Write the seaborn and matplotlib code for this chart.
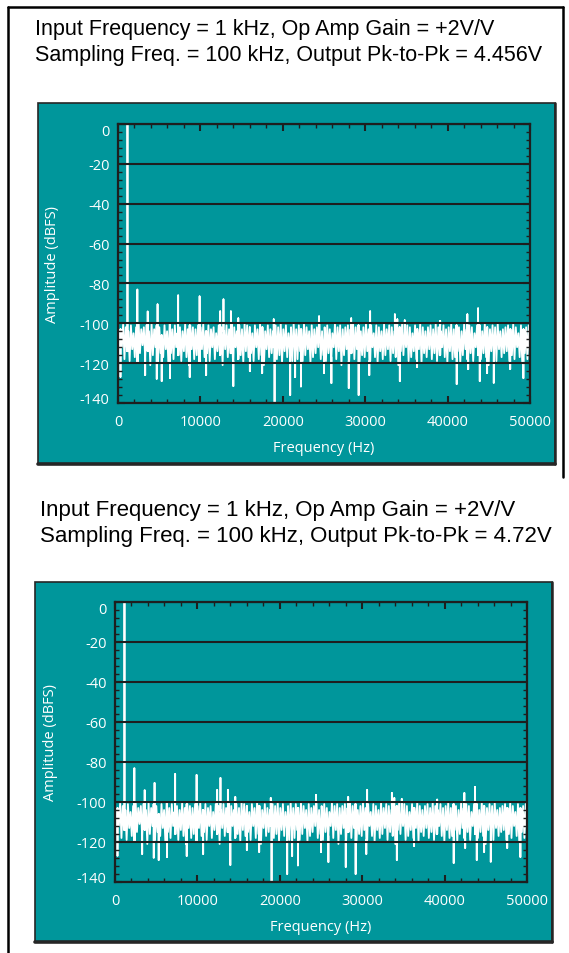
import numpy as np
import pandas as pd
import matplotlib
matplotlib.use("Agg")
import matplotlib.pyplot as plt
import seaborn as sns
from matplotlib.patches import Rectangle
from matplotlib.lines import Line2D
from matplotlib.ticker import MultipleLocator, FixedLocator
from matplotlib.transforms import ScaledTranslation

# ---------------- data ----------------
title_line1 = ["Input Frequency = 1 kHz, Op Amp Gain = +2V/V",
               "Input Frequency = 1 kHz, Op Amp Gain = +2V/V"]
title_line2 = ["Sampling Freq. = 100 kHz, Output Pk-to-Pk = 4.456V",
               "Sampling Freq. = 100 kHz, Output Pk-to-Pk = 4.72V"]

noise_floor_dbfs = [
    -101,-116,-103,-112,-100,-118,-102,-114,-104,-119,-101,-113,-105,-117,-102,-120,-100,-115,-103,-111,
    -102,-118,-101,-114,-104,-121,-100,-116,-103,-112,-101,-119,-102,-115,-106,-117,-101,-113,-104,-120,
    -100,-115,-103,-118,-101,-112,-105,-116,-102,-119,-104,-114,-100,-117,-103,-121,-101,-113,-102,-118,
    -103,-116,-101,-120,-102,-113,-100,-117,-104,-115,-101,-119,-103,-112,-102,-118,-105,-114,-101,-116,
    -102,-121,-104,-113,-101,-117,-103,-115,-100,-119,-102,-112,-104,-118,-101,-116,-103,-120,-100,-114,
    -101,-117,-102,-115,-105,-119,-101,-112,-103,-118,-100,-116,-102,-121,-104,-113,-101,-117,-103,-115,
    -104,-112,-101,-118,-102,-116,-100,-120,-103,-114,-101,-117,-105,-113,-102,-119,-100,-115,-103,-118,
    -101,-114,-103,-119,-100,-116,-102,-113,-104,-120,-101,-117,-103,-115,-102,-112,-100,-118,-104,-116,
    -102,-119,-101,-115,-103,-117,-105,-112,-100,-118,-102,-114,-101,-121,-103,-116,-102,-113,-101,-119,
    -103,-115,-100,-118,-102,-113,-101,-120,-104,-116,-102,-117,-100,-114,-103,-119,-101,-112,-105,-117,
    -101,-120,-102,-114,-104,-118,-100,-116,-103,-113,-101,-119,-102,-115,-104,-117,-100,-121,-102,-114,
    -100,-116,-103,-112,-101,-119,-102,-117,-105,-114,-101,-118,-103,-113,-100,-120,-102,-115,-104,-117,
    -102,-113,-101,-118,-103,-115,-100,-119,-102,-116,-104,-112,-101,-117,-103,-120,-102,-114,-100,-118,
    -103,-117,-101,-114,-102,-120,-104,-116,-100,-113,-103,-118,-101,-115,-102,-119,-105,-112,-101,-116,
    -101,-118,-104,-115,-100,-117,-102,-121,-103,-114,-101,-116,-102,-119,-100,-113,-104,-117,-103,-115,
    -102,-114,-101,-119,-103,-116,-100,-118,-102,-112,-105,-117,-101,-120,-103,-115,-102,-118,-101,-116,
]

tone_freqs_hz = [1150, 2350, 3600, 4800, 7300, 9900, 12400, 12800, 13700, 14600,
                 18900, 24400, 28300, 30600, 33600, 33900, 34800, 39100, 42400, 43700]
tone_levels_dbfs = [0, -83, -94, -90.5, -86, -86.5, -94, -88, -94, -97.5,
                    -98, -96.5, -97.5, -94, -95.5, -98, -98.5, -98.8, -95.5, -92.5]

dip_freqs_hz = [300, 3300, 4700, 5300, 6300, 8700, 10700, 14000, 16000, 17500,
                19000, 20900, 21500, 22200, 25000, 25900, 28000, 29200, 30500, 34200,
                36300, 41100, 42500, 43900, 44800, 45600, 47600, 49200]
dip_levels_dbfs = [-127, -126, -128, -129, -127.5, -127, -126, -131.5, -124, -125,
                   -139.5, -136, -127, -131.7, -125, -130, -132.5, -136, -126, -129,
                   -122, -130.5, -123, -129, -125, -130, -123, -127.5]

x_ticks = [0, 10000, 20000, 30000, 40000, 50000]
y_ticks = [0, -20, -40, -60, -80, -100, -120, -140]

# ---------------- build spectrum table ----------------
# noise floor on the FFT bin grid; tones and dips drawn as vertical strokes
bins = np.linspace(0, 50000, len(noise_floor_dbfs))
rows = [(f, 0, l) for f, l in zip(bins, noise_floor_dbfs)]
for f, l in zip(tone_freqs_hz + dip_freqs_hz, tone_levels_dbfs + dip_levels_dbfs):
    k = int(np.argmin(np.abs(bins - f)))
    base = noise_floor_dbfs[k]
    rows += [(f, 1, base), (f, 2, l), (f, 3, base)]
rows.sort(key=lambda r: (r[0], r[1]))
spectrum = pd.DataFrame({"Frequency (Hz)": [r[0] for r in rows],
                         "Amplitude (dBFS)": [r[2] for r in rows]})

# ---------------- figure ----------------
W, H = 569, 954
sns.set_style("ticks")
plt.rcParams["font.family"] = ["Open Sans", "DejaVu Sans"]
fig = plt.figure(figsize=(W / 100, H / 100), dpi=100)
fig.patch.set_facecolor("white")

def fx(x):
    return x / W

def fy(y):
    return 1 - y / H

TEAL = "#00969b"
EDGE = "#262626"

# outer frame
for (x0, y0, x1, y1) in [(8, 8, 8, 954), (8, 8, 563, 8), (563, 8, 563, 478)]:
    fig.add_artist(Line2D([fx(x0), fx(x1)], [fy(y0), fy(y1)], color="black", lw=1.8,
                          transform=fig.transFigure))

panels = [
    dict(rect=(38, 104, 555, 465), axes=(118, 125, 530, 404), tx=35, tb=(34.5, 61), fs=15.5),
    dict(rect=(35, 583, 552, 943), axes=(115, 603, 527, 883), tx=40, tb=(516, 542), fs=16.0),
]

for i, p in enumerate(panels):
    x0, y0, x1, y1 = p["rect"]
    fig.add_artist(Rectangle((fx(x0), fy(y1)), fx(x1) - fx(x0), fy(y0) - fy(y1),
                             transform=fig.transFigure, facecolor=TEAL, edgecolor=EDGE,
                             lw=1.2, zorder=0))
    fig.add_artist(Line2D([fx(x0), fx(x1)], [fy(y1), fy(y1)], color=EDGE, lw=2.6,
                          transform=fig.transFigure))
    fig.add_artist(Line2D([fx(x1), fx(x1)], [fy(y0), fy(y1)], color=EDGE, lw=1.8,
                          transform=fig.transFigure))

    fig.text(fx(p["tx"]), fy(p["tb"][0]), title_line1[i], fontsize=p["fs"],
             family=["Liberation Sans", "DejaVu Sans"], va="baseline", ha="left", color="black")
    fig.text(fx(p["tx"]), fy(p["tb"][1]), title_line2[i], fontsize=p["fs"],
             family=["Liberation Sans", "DejaVu Sans"], va="baseline", ha="left", color="black")

    ax0, ay0, ax1, ay1 = p["axes"]
    ax = fig.add_axes([fx(ax0), fy(ay1), fx(ax1) - fx(ax0), fy(ay0) - fy(ay1)])
    ax.set_facecolor(TEAL)
    sns.lineplot(data=spectrum, x="Frequency (Hz)", y="Amplitude (dBFS)", ax=ax,
                 color="white", lw=1.3, estimator=None, sort=False, legend=False, zorder=2)
    ax.set_xlim(0, 50000)
    ax.set_ylim(-140, 0)
    ax.xaxis.set_major_locator(FixedLocator(x_ticks))
    ax.yaxis.set_major_locator(FixedLocator(y_ticks))
    ax.set_xticklabels([str(v) for v in x_ticks])
    ax.set_yticklabels([str(v) for v in y_ticks])
    ax.xaxis.set_minor_locator(MultipleLocator(2000))
    ax.yaxis.set_minor_locator(MultipleLocator(4))
    ax.set_axisbelow(False)
    ax.yaxis.grid(True, which="major", color="#1e1e1e", lw=1.5, zorder=3)
    ax.xaxis.grid(False)
    for s in ax.spines.values():
        s.set_color("#1e1e1e")
        s.set_linewidth(1.6)
        s.set_zorder(4)
    ax.tick_params(which="both", direction="in", top=True, right=True,
                   color="#1e1e1e", labelcolor="white", labelsize=10.5)
    ax.tick_params(which="major", length=5, width=1.5)
    ax.tick_params(which="minor", length=3, width=1.0)
    ax.tick_params(axis="y", pad=6)
    ax.tick_params(axis="x", pad=8)
    # end labels sit slightly inside the axis range, as in the original
    yt = ax.yaxis.get_major_ticks()
    yt[0].label1.set_transform(yt[0].label1.get_transform() +
                               ScaledTranslation(0, -6 / 100, fig.dpi_scale_trans))
    yt[-1].label1.set_transform(yt[-1].label1.get_transform() +
                                ScaledTranslation(0, 5 / 100, fig.dpi_scale_trans))
    ax.set_xlabel("Frequency (Hz)", color="white", fontsize=10.5)
    ax.set_ylabel("Amplitude (dBFS)", color="white", fontsize=10.5)
    ax.xaxis.set_label_coords(0.5, -45.0 / (ay1 - ay0))
    ax.xaxis.label.set_va("center")
    ax.yaxis.set_label_coords(-65.0 / (ax1 - ax0), 0.5)
    ax.yaxis.label.set_va("center")

fig.savefig("out.png", dpi=100, facecolor="white")
